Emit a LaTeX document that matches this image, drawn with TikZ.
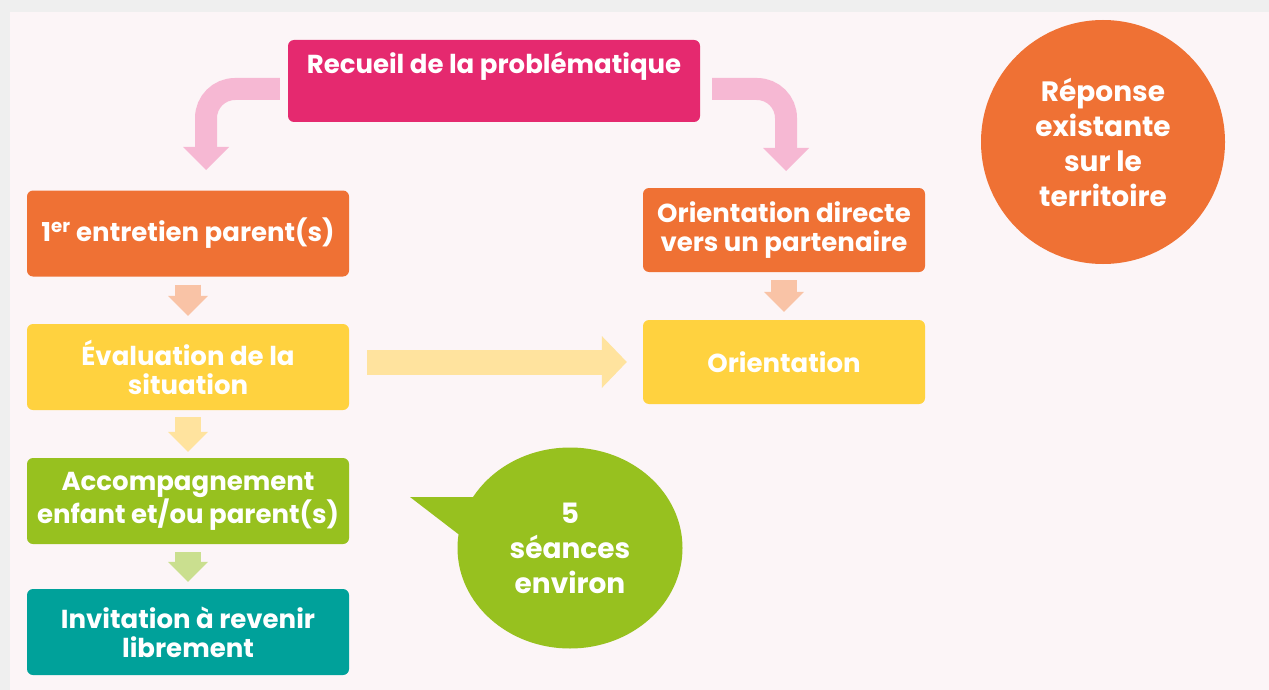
\documentclass[tikz,border=0pt]{standalone}
\usepackage{fontspec}
\setmainfont{Poppins}
\usetikzlibrary{arrows.meta,shapes.geometric,calc}

\definecolor{bgframe}{HTML}{EFEFEF}
\definecolor{bgpink}{HTML}{FCF5F7}
\definecolor{cmagenta}{HTML}{E5296F}
\definecolor{corange}{HTML}{EF7134}
\definecolor{cyellow}{HTML}{FFD23F}
\definecolor{cgreen}{HTML}{97C11F}
\definecolor{cteal}{HTML}{00A19A}
\definecolor{apink}{HTML}{F6B8D3}
\definecolor{aorange}{HTML}{F9C3A6}
\definecolor{ayellow}{HTML}{FFE39E}
\definecolor{agreen}{HTML}{CADF8F}

\tikzset{
  box/.style={rectangle, rounded corners=6pt, minimum width=322pt, minimum height=86pt,
    inner sep=0pt, text=white, align=center, font=\bfseries\fontsize{26}{29}\selectfont},
  rbox/.style={box, minimum width=282pt, minimum height=84pt},
  bubble/.style={inner sep=0pt, text=white, align=center, font=\bfseries\fontsize{28}{35}\selectfont},
  downarrow/.style={line width=26pt, -{Triangle[width=40pt,length=20pt,line width=0pt]}},
  bentarrow/.style={apink, line width=22pt, rounded corners=29pt,
    -{Triangle[width=46pt,length=23pt,line width=0pt]}},
}

\begin{document}
\begin{tikzpicture}[x=1pt,y=-1pt]
    \useasboundingbox (0,0) rectangle (1269,690);
    \fill[bgframe] (0,0) rectangle (1269,690);
    \fill[bgpink] (10,12) rectangle (1269,690);

    % Boxes
    \node[box, fill=cmagenta, minimum width=412pt, minimum height=82pt, text depth=33pt, text height=19pt] (recueil) at (494,81) {Recueil de la problématique};
    \node[box, fill=corange] (entretien) at (188,233.5) {1\textsuperscript{er} entretien parent(s)};
    \node[box, fill=cyellow] (evaluation) at (188,367) {Évaluation de la\\situation};
    \node[box, fill=cgreen] (accomp) at (188,501) {Accompagnement\\enfant et/ou parent(s)};
    \node[box, fill=cteal] (invitation) at (188,632) {Invitation à revenir\\librement};
    \node[rbox, fill=corange] (directe) at (784,230) {Orientation directe\\vers un partenaire};
    \node[rbox, fill=cyellow] (orientation) at (784,362) {Orientation};

    % Bubbles
    \node[bubble, circle, fill=corange, minimum size=244pt] (reponse) at (1103,142) {Réponse\\existante\\sur le\\territoire};
    \coordinate (tail) at (410,497);
    \fill[cgreen] (tail) -- (480,497) -- (466,540) -- cycle;
    \node[bubble, ellipse, fill=cgreen, minimum width=225pt, minimum height=201pt] (seances) at (570,548) {5\\séances\\environ};

    % Bent arrows from the top box
    \coordinate (lbend) at (206,89); \coordinate (ltip) at (206,170);
    \coordinate (rbend) at (786,89); \coordinate (rtip) at (786,171);
    \draw[bentarrow] ([shift={(-8,8)}]recueil.west) -- (lbend) -- (ltip);
    \draw[bentarrow] ([shift={(12,8)}]recueil.east) -- (rbend) -- (rtip);

    % Straight arrows
    \draw[downarrow, aorange] ([yshift=-8pt]entretien.south) -- ([yshift=8pt]evaluation.north);
    \draw[downarrow, ayellow] ([yshift=-7pt]evaluation.south) -- ([yshift=6pt]accomp.north);
    \draw[downarrow, agreen] ([yshift=-8pt]accomp.south) -- ([yshift=7pt]invitation.north);
    \draw[downarrow, aorange] ([yshift=-8pt]directe.south) -- ([yshift=8pt]orientation.north);
    \draw[ayellow, line width=25pt, -{Triangle[width=52pt,length=25pt,line width=0pt]}]
      ($(evaluation.east|-orientation.west)+(18,0)$) -- ($(orientation.west)+(-16,0)$);
\end{tikzpicture}
\end{document}
